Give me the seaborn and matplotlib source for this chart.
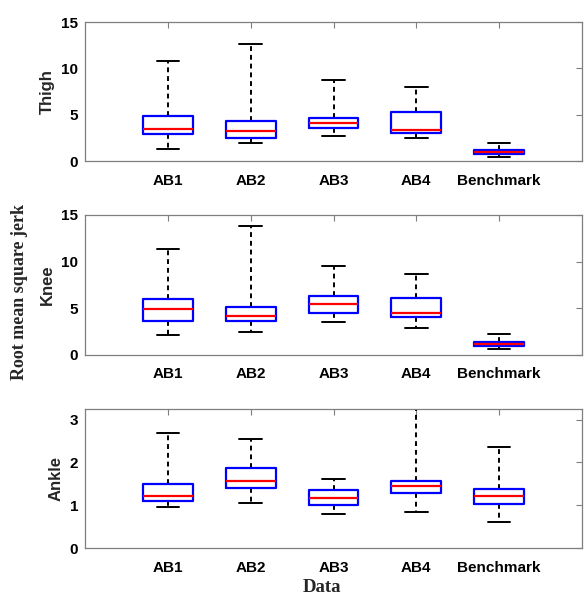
import numpy as np
import pandas as pd
import matplotlib
matplotlib.use("Agg")
import matplotlib.pyplot as plt
import seaborn as sns

categories = ["AB1", "AB2", "AB3", "AB4", "Benchmark"]

# five-number summaries per category: [lower whisker, Q1, median, Q3, upper whisker]
thigh_lo  = [1.33, 1.97, 2.73, 2.51, 0.47]
thigh_q1  = [2.87, 2.44, 3.52, 2.98, 0.79]
thigh_med = [3.41, 3.19, 4.09, 3.34, 0.97]
thigh_q3  = [4.81, 4.27, 4.66, 5.24, 1.18]
thigh_hi  = [10.80, 12.67, 8.72, 7.97, 1.90]

knee_lo  = [2.18, 2.46, 3.50, 2.89, 0.64]
knee_q1  = [3.68, 3.64, 4.46, 4.11, 0.93]
knee_med = [4.96, 4.21, 5.50, 4.50, 1.14]
knee_q3  = [5.96, 5.14, 6.36, 6.14, 1.39]
knee_hi  = [11.36, 13.82, 9.54, 8.71, 2.29]

ankle_lo  = [0.95, 1.05, 0.80, 0.85, 0.60]
ankle_q1  = [1.11, 1.40, 1.01, 1.28, 1.02]
ankle_med = [1.22, 1.57, 1.17, 1.45, 1.22]
ankle_q3  = [1.50, 1.86, 1.36, 1.57, 1.38]
ankle_hi  = [2.68, 2.55, 1.62, 3.24, 2.36]

joint_labels = ["Thigh", "Knee", "Ankle"]
y_limits = [(0, 15), (0, 15), (0, 3.25)]
y_ticks = [[0, 5, 10, 15], [0, 5, 10, 15], [0, 1, 2, 3]]


def long_frame(lo, q1, med, q3, hi):
    rows = []
    for i, c in enumerate(categories):
        for v in (lo[i], q1[i], med[i], q3[i], hi[i]):
            rows.append({"cat": c, "val": v})
    return pd.DataFrame(rows)


frames = [
    long_frame(thigh_lo, thigh_q1, thigh_med, thigh_q3, thigh_hi),
    long_frame(knee_lo, knee_q1, knee_med, knee_q3, knee_hi),
    long_frame(ankle_lo, ankle_q1, ankle_med, ankle_q3, ankle_hi),
]

sns.set_style("white")
plt.rcParams["font.family"] = ["Liberation Sans", "DejaVu Sans"]

fig = plt.figure(figsize=(5.87, 5.96), dpi=100)
W, H = 587, 596
left, right = 85, 582
tops_bottoms = [(22, 161), (215, 355), (409, 548)]
label_x = [-0.060, -0.060, -0.044]

dash = (0, (2.5, 2.0))
for k, (df, (t, b)) in enumerate(zip(frames, tops_bottoms)):
    ax = fig.add_axes([left / W, 1 - b / H, (right - left) / W, (b - t) / H])
    sns.boxplot(
        data=df, x="cat", y="val", ax=ax, order=categories,
        whis=(0, 100), width=0.6, fill=False, linewidth=1.5,
        linecolor="black", showfliers=False, capwidths=0.27,
        boxprops=dict(color="#0000ff", linewidth=1.6, zorder=3),
        medianprops=dict(color="#ff0000", linewidth=1.6, zorder=4),
        whiskerprops=dict(color="black", linewidth=1.4, linestyle=dash, zorder=2),
        capprops=dict(color="black", linewidth=1.4, zorder=2),
    )
    ax.set_xlim(-1, 5)
    ax.set_ylim(*y_limits[k])
    ax.set_yticks(y_ticks[k])
    ax.set_xlabel("")
    ax.set_ylabel(joint_labels[k], fontsize=12, fontweight="bold")
    ax.yaxis.set_label_coords(label_x[k], 0.5)
    for sp in ax.spines.values():
        sp.set_visible(True)
        sp.set_color("#7f7f7f")
        sp.set_linewidth(0.9)
    ax.tick_params(axis="both", which="both", direction="in", length=4,
                   color="#7f7f7f", width=0.8, labelsize=11,
                   top=True, right=True, labelcolor="black")
    ax.tick_params(axis="x", pad=9)
    ax.tick_params(axis="y", pad=5)
    for lbl in ax.get_xticklabels() + ax.get_yticklabels():
        lbl.set_fontweight("bold")

fig.text(20 / W, 1 - 292 / H, "Root mean square jerk", rotation=90,
         ha="center", va="center", fontsize=13, fontweight="bold",
         family=["Liberation Serif", "DejaVu Serif"])
fig.text(322 / W, 1 - 588 / H, "Data", ha="center", va="center",
         fontsize=13.5, fontweight="bold",
         family=["Liberation Serif", "DejaVu Serif"])

fig.savefig("out.png", dpi=100)
